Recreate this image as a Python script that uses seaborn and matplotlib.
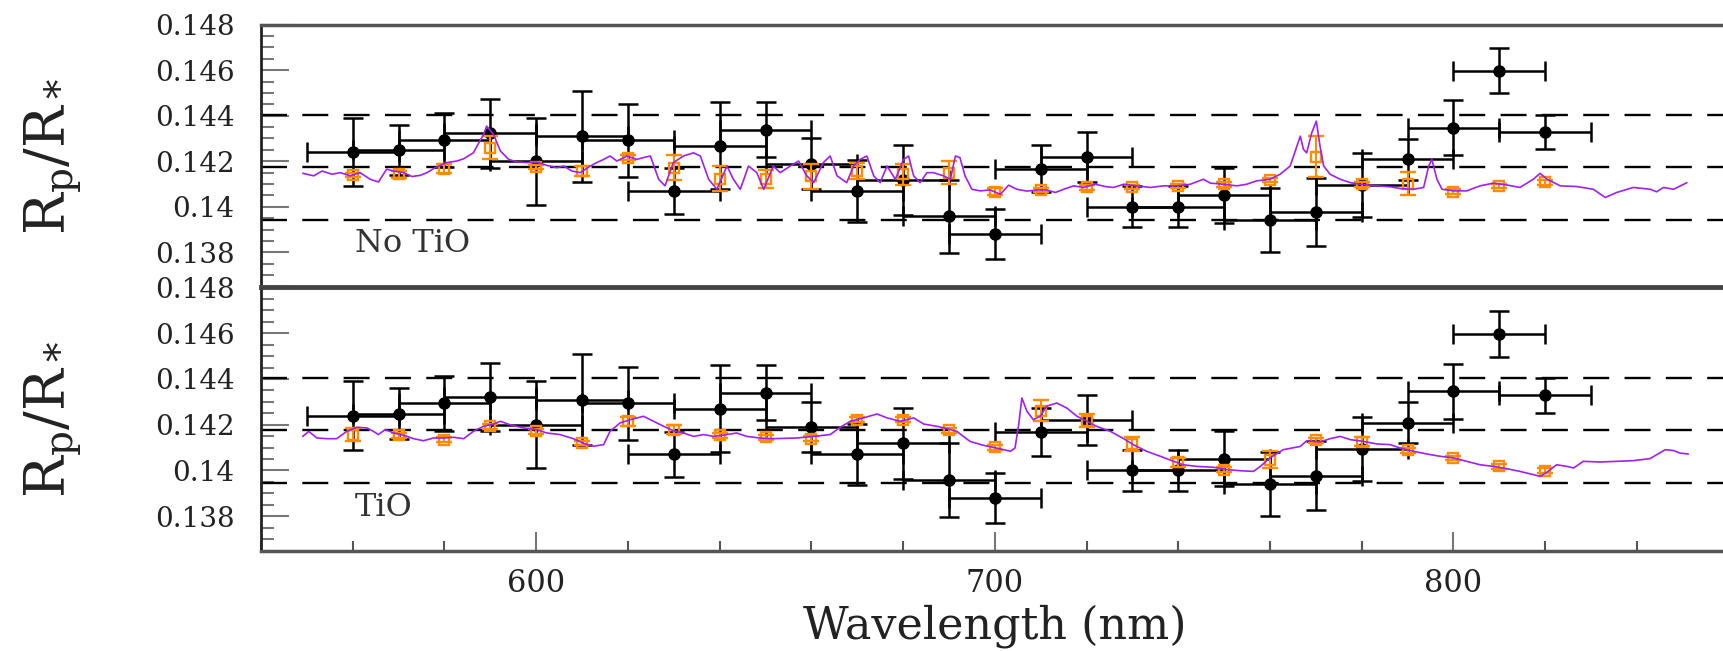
import seaborn as sns
import matplotlib.pyplot as plt
import pandas as pd
import numpy as np
from matplotlib.ticker import MultipleLocator, FuncFormatter

# observed transmission spectrum (bins are +-10 nm wide)
obs_wl = [560, 570, 580, 590, 600, 610, 620, 630, 640, 650, 660, 670, 680, 690,
          700, 710, 720, 730, 740, 750, 760, 770, 780, 790, 800, 810, 820]
obs_rp = [0.14240, 0.14249, 0.14293, 0.14322, 0.14200, 0.14310, 0.14293, 0.14070,
          0.14269, 0.14339, 0.14190, 0.14070, 0.14118, 0.13958, 0.13881, 0.14168,
          0.14220, 0.14000, 0.14000, 0.14051, 0.13942, 0.13978, 0.14095, 0.14208,
          0.14347, 0.14598, 0.14328]
obs_err = [0.0015, 0.0011, 0.0012, 0.0015, 0.0019, 0.0020, 0.0016, 0.0010,
           0.0019, 0.0012, 0.0011, 0.00135, 0.00155, 0.0016, 0.0011, 0.00105,
           0.0011, 0.0009, 0.0009, 0.0012, 0.0014, 0.0015, 0.0014, 0.0009,
           0.0012, 0.0010, 0.00075]
bin_half = 10

# binned models
notio_bin = [0.14140, 0.14143, 0.14168, 0.14259, 0.14175, 0.14157, 0.14216, 0.14172,
             0.14124, 0.14121, 0.14135, 0.14157, 0.14143, 0.14150, 0.14066, 0.14073,
             0.14085, 0.14087, 0.14092, 0.14099, 0.14118, 0.14220, 0.14099, 0.14102,
             0.14067, 0.14092, 0.14107]
notio_bin_err = [0.0001, 0.00015, 0.0002, 0.0005, 0.0001, 0.0002, 0.0001, 0.00055,
                 0.00055, 0.0004, 0.00055, 0.00036, 0.00047, 0.00049, 0.00015, 0.0001,
                 0.0001, 0.0001, 0.0001, 0.0001, 0.0001, 0.0009, 0.0001, 0.0005,
                 0.0001, 0.0001, 0.0001]
tio_bin = [0.14157, 0.14154, 0.14135, 0.14193, 0.14171, 0.14120, 0.14215, 0.14179,
           0.14154, 0.14145, 0.14139, 0.14222, 0.14222, 0.14176, 0.14101, 0.14262,
           0.14218, 0.14116, 0.14035, 0.14004, 0.14047, 0.14132, 0.14125, 0.14088,
           0.14055, 0.14018, 0.13999]
tio_bin_err = [0.0003, 0.0001, 0.0001, 0.0001, 0.0001, 0.0001, 0.0002, 0.0002,
               0.0001, 0.0001, 0.0001, 0.0001, 0.0001, 0.0001, 0.0001, 0.00047,
               0.0003, 0.0003, 0.0002, 0.0001, 0.00038, 0.0001, 0.0002, 0.0001,
               0.0001, 0.0001, 0.0001]

# high resolution model spectra (wavelength nm, Rp/R*)
notio_spec = [
    (549.1, 0.14147), (551.5, 0.14136), (553.3, 0.14157), (555.5, 0.14143), (557.3, 0.14150),
    (559.4, 0.14136), (561.6, 0.14150), (563.8, 0.14121), (565.6, 0.14109), (567.4, 0.14165),
    (568.9, 0.14157), (571.1, 0.14150), (572.9, 0.14133), (574.7, 0.14138), (576.2, 0.14150),
    (578.0, 0.14172), (580.5, 0.14194), (582.7, 0.14201), (584.2, 0.14211), (586.3, 0.14237),
    (588.5, 0.14317), (589.2, 0.14354), (590.7, 0.14317), (592.2, 0.14245), (594.0, 0.14208),
    (595.8, 0.14197), (598.0, 0.14194), (600.1, 0.14197), (602.3, 0.14182), (604.5, 0.14172),
    (606.0, 0.14179), (607.8, 0.14157), (609.6, 0.14150), (611.8, 0.14179), (613.2, 0.14194),
    (614.7, 0.14208), (616.1, 0.14223), (617.6, 0.14201), (619.8, 0.14223), (621.9, 0.14208),
    (623.4, 0.14216), (624.9, 0.14223), (626.7, 0.14121), (628.1, 0.14092), (629.9, 0.14194),
    (632.1, 0.14223), (634.3, 0.14237), (635.8, 0.14223), (637.6, 0.14121), (639.4, 0.14077),
    (641.6, 0.14179), (643.0, 0.14121), (644.5, 0.14077), (646.3, 0.14179), (648.1, 0.14150),
    (649.6, 0.14077), (651.7, 0.14179), (653.2, 0.14150), (655.4, 0.14179), (657.2, 0.14201),
    (659.0, 0.14136), (660.5, 0.14106), (662.6, 0.14194), (664.1, 0.14223), (665.6, 0.14136),
    (667.7, 0.14106), (669.2, 0.14179), (670.6, 0.14208), (672.1, 0.14223), (673.6, 0.14136),
    (675.0, 0.14106), (676.5, 0.14179), (678.3, 0.14121), (680.1, 0.14208), (681.2, 0.14223),
    (682.3, 0.14136), (683.7, 0.14106), (685.2, 0.14150), (686.6, 0.14150), (688.8, 0.14136),
    (690.3, 0.14121), (691.4, 0.14223), (692.4, 0.14216), (693.5, 0.14136), (695.0, 0.14077),
    (696.8, 0.14070), (699.0, 0.14074), (701.2, 0.14055), (703.0, 0.14095), (704.8, 0.14077),
    (707.0, 0.14069), (709.2, 0.14074), (711.3, 0.14074), (713.2, 0.14063), (715.0, 0.14077),
    (717.2, 0.14092), (719.3, 0.14085), (721.9, 0.14099), (724.1, 0.14089), (725.9, 0.14085),
    (728.1, 0.14099), (731.0, 0.14092), (733.9, 0.14085), (736.8, 0.14092), (739.7, 0.14092),
    (742.6, 0.14099), (745.5, 0.14121), (747.0, 0.14104), (749.9, 0.14099), (752.8, 0.14092),
    (754.9, 0.14099), (757.1, 0.14114), (760.0, 0.14121), (762.2, 0.14143), (764.4, 0.14179),
    (766.6, 0.14310), (767.3, 0.14252), (768.0, 0.14237), (769.1, 0.14325), (770.1, 0.14376),
    (770.9, 0.14267), (771.7, 0.14179), (773.1, 0.14143), (775.3, 0.14121), (777.5, 0.14106),
    (779.7, 0.14099), (783.3, 0.14092), (786.2, 0.14088), (788.4, 0.14080), (791.3, 0.14077),
    (793.5, 0.14085), (794.6, 0.14179), (795.3, 0.14208), (796.4, 0.14121), (797.5, 0.14077),
    (800.0, 0.14070), (802.9, 0.14070), (805.8, 0.14092), (808.7, 0.14104), (811.6, 0.14096),
    (814.5, 0.14085), (817.4, 0.14121), (818.9, 0.14147), (820.4, 0.14121), (823.3, 0.14092),
    (826.9, 0.14089), (830.5, 0.14077), (833.1, 0.14041), (835.6, 0.14063), (839.2, 0.14085),
    (842.9, 0.14077), (844.3, 0.14066), (845.8, 0.14085), (848.0, 0.14077), (850.9, 0.14106),
]
tio_spec = [
    (549.1, 0.14149), (550.4, 0.14171), (552.2, 0.14142), (554.4, 0.14139), (556.5, 0.14139),
    (558.7, 0.14171), (560.9, 0.14189), (563.1, 0.14186), (564.5, 0.14171), (565.6, 0.14157),
    (567.1, 0.14179), (568.9, 0.14164), (571.1, 0.14154), (573.3, 0.14139), (575.4, 0.14130),
    (577.6, 0.14142), (579.8, 0.14142), (582.0, 0.14145), (584.2, 0.14139), (586.3, 0.14171),
    (588.5, 0.14193), (590.7, 0.14203), (592.2, 0.14215), (594.3, 0.14200), (597.2, 0.14186),
    (600.1, 0.14179), (602.3, 0.14164), (605.2, 0.14157), (608.1, 0.14139), (610.7, 0.14116),
    (612.5, 0.14106), (614.7, 0.14113), (616.1, 0.14171), (618.3, 0.14208), (620.5, 0.14222),
    (623.4, 0.14237), (625.6, 0.14215), (627.8, 0.14193), (629.9, 0.14174), (632.1, 0.14164),
    (634.3, 0.14149), (636.5, 0.14157), (638.7, 0.14149), (641.6, 0.14157), (643.7, 0.14164),
    (645.9, 0.14149), (648.8, 0.14142), (651.7, 0.14139), (656.8, 0.14142), (660.5, 0.14149),
    (664.1, 0.14157), (666.3, 0.14189), (668.5, 0.14215), (671.4, 0.14230), (674.3, 0.14247),
    (676.5, 0.14230), (679.4, 0.14215), (682.3, 0.14230), (684.5, 0.14203), (687.4, 0.14193),
    (689.5, 0.14183), (691.7, 0.14171), (694.6, 0.14127), (697.5, 0.14110), (700.4, 0.14098),
    (703.4, 0.14084), (704.4, 0.14098), (705.2, 0.14200), (705.9, 0.14317), (707.0, 0.14259),
    (708.4, 0.14222), (709.9, 0.14237), (711.3, 0.14281), (713.5, 0.14295), (715.7, 0.14273),
    (717.9, 0.14237), (720.1, 0.14215), (722.2, 0.14193), (725.2, 0.14171), (728.1, 0.14139),
    (730.2, 0.14113), (733.1, 0.14084), (736.1, 0.14062), (739.0, 0.14040), (741.1, 0.14025),
    (744.0, 0.14018), (747.7, 0.14014), (750.6, 0.14004), (753.5, 0.13999), (756.4, 0.13996),
    (757.9, 0.14018), (760.0, 0.14055), (762.9, 0.14091), (766.6, 0.14105), (768.0, 0.14130),
    (770.9, 0.14125), (773.1, 0.14139), (775.3, 0.14149), (777.5, 0.14135), (780.4, 0.14127),
    (783.3, 0.14116), (786.2, 0.14113), (788.4, 0.14098), (791.3, 0.14084), (794.2, 0.14072),
    (797.1, 0.14062), (800.0, 0.14055), (802.9, 0.14040), (805.8, 0.14025), (808.7, 0.14018),
    (811.6, 0.14008), (814.5, 0.13996), (817.4, 0.13982), (818.9, 0.13974), (820.4, 0.13993),
    (822.5, 0.14025), (824.7, 0.14018), (826.2, 0.14011), (828.3, 0.14040), (832.0, 0.14037),
    (835.6, 0.14040), (839.2, 0.14043), (842.9, 0.14052), (844.3, 0.14069), (846.2, 0.14091),
    (848.0, 0.14087), (849.4, 0.14076), (851.2, 0.14072),
]

# mean and +-1 sigma levels of the data
ref_levels = [0.13944, 0.14176, 0.14403]

panel_labels = ["No TiO", "TiO"]

sns.set_style("ticks")
plt.rcParams['font.family'] = ['DejaVu Serif']
plt.rcParams['mathtext.fontset'] = 'dejavuserif'

ORANGE = '#ff8c00'
PURPLE = '#a020f0'

fig = plt.figure(figsize=(17.24, 6.51), dpi=100)
ax_top = fig.add_axes([0.1514, 0.5591, 0.8513, 0.4032])
ax_bot = fig.add_axes([0.1514, 0.1536, 0.8513, 0.4048])

def fmt(v, pos):
    s = "{:.3f}".format(v).rstrip('0')
    return s

for ax, binned, binned_err, spec, label in [
        (ax_top, notio_bin, notio_bin_err, notio_spec, panel_labels[0]),
        (ax_bot, tio_bin, tio_bin_err, tio_spec, panel_labels[1])]:
    for lev in ref_levels:
        ax.axhline(lev, color='k', lw=1.7, ls=(0, (11, 6.5)), zorder=1)
    ax.errorbar(obs_wl, obs_rp, yerr=obs_err, xerr=bin_half, fmt='o', color='k',
                ms=8, elinewidth=1.8, capsize=7, capthick=1.8, zorder=2)
    ax.errorbar(obs_wl, binned, yerr=binned_err, fmt='s', color=ORANGE, mfc='none',
                mec=ORANGE, mew=1.7, ms=7, elinewidth=1.5, capsize=6, capthick=1.6, zorder=3)
    df = pd.DataFrame(spec, columns=['wl', 'rp'])
    sns.lineplot(data=df, x='wl', y='rp', ax=ax, color=PURPLE, lw=1.2,
                 sort=False, estimator=None, zorder=4)
    ax.text(560.5, 0.1384, label, fontsize=23, color='#333', va='center', ha='left')

    ax.set_xlim(540, 860)
    ax.set_ylim(0.13648, 0.148)
    ax.set_xlabel('')
    ax.set_ylabel('')
    ax.yaxis.set_major_locator(MultipleLocator(0.002))
    ax.yaxis.set_minor_locator(MultipleLocator(0.0005))
    ax.yaxis.set_major_formatter(FuncFormatter(fmt))
    ax.tick_params(axis='y', which='major', direction='in', length=20, width=1.5,
                   color='#777', labelsize=20, pad=19, labelcolor='#222')
    ax.tick_params(axis='y', which='minor', direction='in', length=9, width=1.5, color='#777')
    for side in ['top', 'bottom']:
        ax.spines[side].set_linewidth(2.5)
        ax.spines[side].set_color('#555')
    ax.spines['left'].set_linewidth(2)
    ax.spines['left'].set_color('#222')
    ax.spines['right'].set_visible(False)
    fig.text(53 / 1724, 0.5 * (ax.get_position().y0 + ax.get_position().y1),
             r'$\mathrm{R_p/R_*}$', rotation=90, fontsize=40, ha='center', va='center',
             color='#222')

ax_top.spines['bottom'].set_visible(False)
ax_top.tick_params(axis='x', which='both', bottom=False, labelbottom=False)
ax_bot.spines['top'].set_linewidth(3.5)
ax_bot.spines['top'].set_color('#444')
ax_bot.xaxis.set_major_locator(MultipleLocator(100))
ax_bot.xaxis.set_minor_locator(MultipleLocator(20))
ax_bot.tick_params(axis='x', which='major', direction='in', length=14, width=1.5,
                   color='#777', labelsize=22, pad=12, labelcolor='#222')
ax_bot.tick_params(axis='x', which='minor', direction='in', length=7, width=1.5, color='#555')
ax_bot.set_xlabel('Wavelength (nm)', fontsize=32, color='#222', labelpad=4)

plt.savefig('out.png', dpi=100)
